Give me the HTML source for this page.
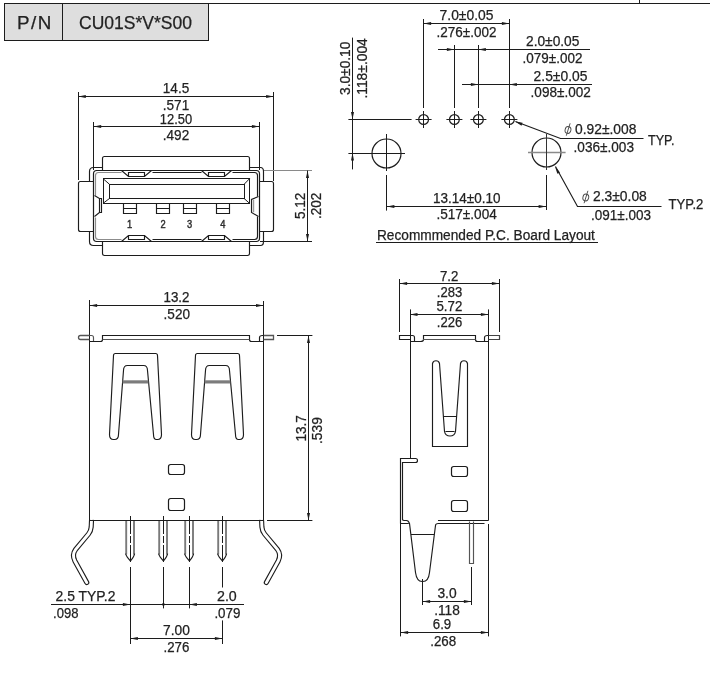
<!DOCTYPE html>
<html><head><meta charset="utf-8"><title>CU01S*V*S00</title>
<style>
html,body{margin:0;padding:0;background:#fff;}
svg{display:block;font-family:"Liberation Sans",sans-serif;filter:grayscale(1);}
</style></head>
<body>
<svg width="710" height="692" viewBox="0 0 710 692">
<rect x="0" y="0" width="710" height="692" fill="#ffffff"/>
<line x1="4" y1="3.5" x2="710" y2="3.5" stroke="#1c1c1c" stroke-width="1.0"/>
<line x1="639.5" y1="0" x2="639.5" y2="3.4" stroke="#1c1c1c" stroke-width="1.0"/>
<rect x="4.5" y="3.5" width="204.0" height="37.0" rx="0" ry="0" stroke="#1c1c1c" stroke-width="1.0" fill="#dedede"/>
<line x1="62.5" y1="3.4" x2="62.5" y2="40" stroke="#1c1c1c" stroke-width="1.0"/>
<text x="17" y="29.3" font-size="18.8" text-anchor="start" font-weight="normal" fill="#222222" stroke="#222222" stroke-width="0.25" textLength="34.4" lengthAdjust="spacing">P/N</text>
<text x="79" y="29.3" font-size="18.8" text-anchor="start" font-weight="normal" fill="#222222" stroke="#222222" stroke-width="0.25" textLength="112.9" lengthAdjust="spacingAndGlyphs">CU01S*V*S00</text>
<line x1="78.5" y1="92" x2="78.5" y2="180" stroke="#1c1c1c" stroke-width="1.0"/>
<line x1="273.5" y1="92" x2="273.5" y2="181" stroke="#1c1c1c" stroke-width="1.0"/>
<line x1="78.3" y1="96.5" x2="273.6" y2="96.5" stroke="#1c1c1c" stroke-width="1.0"/>
<polygon points="78.3,96.5 85.8,95.0 85.8,98.0" fill="#1c1c1c"/>
<polygon points="273.6,96.5 266.1,95.0 266.1,98.0" fill="#1c1c1c"/>
<text x="176" y="93" font-size="14" text-anchor="middle" font-weight="normal" fill="#222222" stroke="#222222" stroke-width="0.25" textLength="26.4" lengthAdjust="spacingAndGlyphs">14.5</text>
<text x="176" y="110" font-size="14" text-anchor="middle" font-weight="normal" fill="#222222" stroke="#222222" stroke-width="0.25" textLength="26.4" lengthAdjust="spacingAndGlyphs">.571</text>
<line x1="93.5" y1="122" x2="93.5" y2="170" stroke="#1c1c1c" stroke-width="1.0"/>
<line x1="259.5" y1="122" x2="259.5" y2="170" stroke="#1c1c1c" stroke-width="1.0"/>
<line x1="93.7" y1="126.5" x2="259.4" y2="126.5" stroke="#1c1c1c" stroke-width="1.0"/>
<polygon points="93.7,126.5 101.2,125.0 101.2,128.0" fill="#1c1c1c"/>
<polygon points="259.4,126.5 251.89999999999998,125.0 251.89999999999998,128.0" fill="#1c1c1c"/>
<text x="176" y="123.6" font-size="14" text-anchor="middle" font-weight="normal" fill="#222222" stroke="#222222" stroke-width="0.25" textLength="32.4" lengthAdjust="spacingAndGlyphs">12.50</text>
<text x="176" y="140" font-size="14" text-anchor="middle" font-weight="normal" fill="#222222" stroke="#222222" stroke-width="0.25" textLength="26.4" lengthAdjust="spacingAndGlyphs">.492</text>
<path d="M 102.5,170.5 V 158.5 Q 102.5,156.5 104.5,156.5 H 247.5 Q 249.5,156.5 249.5,158.5 V 170.5" stroke="#1c1c1c" stroke-width="1.15" fill="none" />
<path d="M 102.5,241.5 V 253.5 Q 102.5,255.5 104.5,255.5 H 247.5 Q 249.5,255.5 249.5,253.5 V 241.5" stroke="#1c1c1c" stroke-width="1.15" fill="none" />
<path d="M 102.5,167.5 H 93.5 Q 89.5,167.5 89.5,171.5 V 181.5" stroke="#1c1c1c" stroke-width="1.15" fill="none" />
<path d="M 89.5,231.5 V 241.5 Q 89.5,245.5 93.5,245.5 H 102.5" stroke="#1c1c1c" stroke-width="1.15" fill="none" />
<path d="M 249.5,167.5 H 260.5 Q 263.5,167.5 263.5,171.5 V 181.5" stroke="#1c1c1c" stroke-width="1.15" fill="none" />
<path d="M 263.5,231.5 V 241.5 Q 263.5,245.5 260.5,245.5 H 249.5" stroke="#1c1c1c" stroke-width="1.15" fill="none" />
<rect x="93.5" y="170.5" width="166.0" height="71.0" rx="3.2" ry="3.2" stroke="#1c1c1c" stroke-width="1.2" fill="none"/>
<path d="M 93.5,181.5 H 80.5 Q 78.5,181.5 78.5,183.5 V 229.5 Q 78.5,231.5 80.5,231.5 H 93.5" stroke="#1c1c1c" stroke-width="1.15" fill="none" />
<path d="M 259.5,181.5 H 271.5 Q 273.5,181.5 273.5,183.5 V 229.5 Q 273.5,231.5 271.5,231.5 H 259.5" stroke="#1c1c1c" stroke-width="1.15" fill="none" />
<path d="M 95.5,195.5 V 175.5 Q 95.5,172.5 98.5,172.5 H 121.5" stroke="#8c8c8c" stroke-width="1.15" fill="none" />
<path d="M 95.5,217.5 V 236.5 Q 95.5,239.5 98.5,239.5 H 121.5" stroke="#8c8c8c" stroke-width="1.15" fill="none" />
<path d="M 152.5,172.5 H 201.5 M 232.5,172.5 H 254.5 Q 257.5,172.5 257.5,175.5 V 196.5 M 257.5,216.5 V 236.5 Q 257.5,239.5 254.5,239.5 H 232.5 M 201.5,239.5 H 152.5 M 121.5,170.5 L 128.5,176.5 H 144.5 L 151.5,170.5 M 201.5,170.5 L 208.5,176.5 H 224.5 L 231.5,170.5 M 121.5,241.5 L 128.5,235.5 H 144.5 L 151.5,241.5 M 201.5,241.5 L 208.5,235.5 H 224.5 L 231.5,241.5" stroke="#1c1c1c" stroke-width="1.15" fill="none" />
<path d="M 128.5,176.5 V 172.5 H 144.5 V 176.5" stroke="#1c1c1c" stroke-width="1.15" fill="none" />
<path d="M 128.5,235.5 V 239.5 H 144.5 V 235.5" stroke="#1c1c1c" stroke-width="1.15" fill="none" />
<path d="M 208.5,176.5 V 172.5 H 224.5 V 176.5" stroke="#1c1c1c" stroke-width="1.15" fill="none" />
<path d="M 208.5,235.5 V 239.5 H 224.5 V 235.5" stroke="#1c1c1c" stroke-width="1.15" fill="none" />
<path d="M 94.5,195.5 L 99.5,198.5 V 212.5 L 94.5,216.5 M 99.5,198.5 H 101.5 V 212.5 H 99.5" stroke="#1c1c1c" stroke-width="1.15" fill="none" />
<path d="M 258.5,196.5 L 251.5,199.5 V 212.5 L 258.5,216.5" stroke="#1c1c1c" stroke-width="1.15" fill="none" />
<line x1="253.5" y1="199.8" x2="253.5" y2="212.2" stroke="#9a9a9a" stroke-width="1.4"/>
<rect x="103.5" y="178.5" width="146.0" height="25.0" rx="0" ry="0" stroke="#1c1c1c" stroke-width="1.0" fill="none"/>
<rect x="109.5" y="184.5" width="135.0" height="14.0" rx="0" ry="0" stroke="#1c1c1c" stroke-width="1.0" fill="none"/>
<line x1="103" y1="178.6" x2="109.6" y2="184.4" stroke="#1c1c1c" stroke-width="1.0"/>
<line x1="103" y1="203.4" x2="109.6" y2="198.4" stroke="#1c1c1c" stroke-width="1.0"/>
<line x1="249.6" y1="178.6" x2="244" y2="184.4" stroke="#1c1c1c" stroke-width="1.0"/>
<line x1="249.6" y1="203.4" x2="244" y2="198.4" stroke="#1c1c1c" stroke-width="1.0"/>
<path d="M 123.5,203.5 V 213.5 H 136.5 V 203.5 M 123.5,208.5 H 136.5" stroke="#1c1c1c" stroke-width="1.15" fill="none" />
<path d="M 156.5,203.5 V 213.5 H 169.5 V 203.5 M 156.5,208.5 H 169.5" stroke="#1c1c1c" stroke-width="1.15" fill="none" />
<path d="M 183.5,203.5 V 213.5 H 196.5 V 203.5 M 183.5,208.5 H 196.5" stroke="#1c1c1c" stroke-width="1.15" fill="none" />
<path d="M 216.5,203.5 V 213.5 H 229.5 V 203.5 M 216.5,208.5 H 229.5" stroke="#1c1c1c" stroke-width="1.15" fill="none" />
<text x="129.6" y="228" font-size="11.2" text-anchor="middle" fill="#2e2e2e" stroke="#2e2e2e" stroke-width="0.45" textLength="5.2" lengthAdjust="spacingAndGlyphs">1</text>
<text x="163" y="228" font-size="11.2" text-anchor="middle" fill="#2e2e2e" stroke="#2e2e2e" stroke-width="0.45" textLength="5.2" lengthAdjust="spacingAndGlyphs">2</text>
<text x="189.6" y="228" font-size="11.2" text-anchor="middle" fill="#2e2e2e" stroke="#2e2e2e" stroke-width="0.45" textLength="5.2" lengthAdjust="spacingAndGlyphs">3</text>
<text x="222.8" y="228" font-size="11.2" text-anchor="middle" fill="#2e2e2e" stroke="#2e2e2e" stroke-width="0.45" textLength="5.2" lengthAdjust="spacingAndGlyphs">4</text>
<line x1="264" y1="170.5" x2="312" y2="170.5" stroke="#8a8a8a" stroke-width="1.0"/>
<line x1="260" y1="241.5" x2="312" y2="241.5" stroke="#1c1c1c" stroke-width="1.0"/>
<line x1="307.5" y1="170.6" x2="307.5" y2="241.4" stroke="#1c1c1c" stroke-width="1.0"/>
<polygon points="307.5,170.6 306.0,178.1 309.0,178.1" fill="#1c1c1c"/>
<polygon points="307.5,241.4 306.0,233.9 309.0,233.9" fill="#1c1c1c"/>
<text x="304.6" y="219" font-size="14" text-anchor="start" font-weight="normal" fill="#222222" stroke="#222222" stroke-width="0.25" textLength="26.4" lengthAdjust="spacingAndGlyphs" transform="rotate(-90 304.6 219)">5.12</text>
<text x="321.4" y="219" font-size="14" text-anchor="start" font-weight="normal" fill="#222222" stroke="#222222" stroke-width="0.25" textLength="26.4" lengthAdjust="spacingAndGlyphs" transform="rotate(-90 321.4 219)">.202</text>
<circle cx="423.6" cy="119.5" r="4.9" stroke="#1c1c1c" stroke-width="1.2" fill="none"/>
<line x1="415.6" y1="119.5" x2="431.6" y2="119.5" stroke="#1c1c1c" stroke-width="1.0"/>
<line x1="423.5" y1="111.0" x2="423.5" y2="128.0" stroke="#1c1c1c" stroke-width="1.0"/>
<circle cx="454.4" cy="119.5" r="4.9" stroke="#1c1c1c" stroke-width="1.2" fill="none"/>
<line x1="446.4" y1="119.5" x2="462.4" y2="119.5" stroke="#1c1c1c" stroke-width="1.0"/>
<line x1="454.5" y1="111.0" x2="454.5" y2="128.0" stroke="#1c1c1c" stroke-width="1.0"/>
<circle cx="478.4" cy="119.5" r="4.9" stroke="#1c1c1c" stroke-width="1.2" fill="none"/>
<line x1="470.4" y1="119.5" x2="486.4" y2="119.5" stroke="#1c1c1c" stroke-width="1.0"/>
<line x1="478.5" y1="111.0" x2="478.5" y2="128.0" stroke="#1c1c1c" stroke-width="1.0"/>
<circle cx="509.4" cy="119.5" r="4.9" stroke="#1c1c1c" stroke-width="1.2" fill="none"/>
<line x1="501.4" y1="119.5" x2="517.4" y2="119.5" stroke="#1c1c1c" stroke-width="1.0"/>
<line x1="509.5" y1="111.0" x2="509.5" y2="128.0" stroke="#1c1c1c" stroke-width="1.0"/>
<line x1="423.5" y1="19" x2="423.5" y2="108" stroke="#1c1c1c" stroke-width="1.0"/>
<line x1="509.5" y1="19" x2="509.5" y2="108" stroke="#1c1c1c" stroke-width="1.0"/>
<line x1="454.5" y1="45" x2="454.5" y2="108" stroke="#1c1c1c" stroke-width="1.0"/>
<line x1="478.5" y1="45" x2="478.5" y2="108" stroke="#1c1c1c" stroke-width="1.0"/>
<line x1="423.6" y1="23.5" x2="509.4" y2="23.5" stroke="#1c1c1c" stroke-width="1.0"/>
<polygon points="423.6,23.5 431.1,22.0 431.1,25.0" fill="#1c1c1c"/>
<polygon points="509.4,23.5 501.9,22.0 501.9,25.0" fill="#1c1c1c"/>
<text x="439.6" y="20" font-size="14" text-anchor="start" font-weight="normal" fill="#222222" stroke="#222222" stroke-width="0.25" textLength="53.8" lengthAdjust="spacingAndGlyphs">7.0±0.05</text>
<text x="436.6" y="37" font-size="14" text-anchor="start" font-weight="normal" fill="#222222" stroke="#222222" stroke-width="0.25" textLength="59.8" lengthAdjust="spacingAndGlyphs">.276±.002</text>
<line x1="438" y1="49.5" x2="590" y2="49.5" stroke="#1c1c1c" stroke-width="1.0"/>
<polygon points="454.4,49.5 446.9,48.0 446.9,51.0" fill="#1c1c1c"/>
<polygon points="478.4,49.5 485.9,48.0 485.9,51.0" fill="#1c1c1c"/>
<text x="526" y="46" font-size="14" text-anchor="start" font-weight="normal" fill="#222222" stroke="#222222" stroke-width="0.25" textLength="53.4" lengthAdjust="spacingAndGlyphs">2.0±0.05</text>
<text x="522.6" y="62.6" font-size="14" text-anchor="start" font-weight="normal" fill="#222222" stroke="#222222" stroke-width="0.25" textLength="59.8" lengthAdjust="spacingAndGlyphs">.079±.002</text>
<line x1="462" y1="84.5" x2="592" y2="84.5" stroke="#1c1c1c" stroke-width="1.0"/>
<polygon points="478.4,84.5 470.9,83.0 470.9,86.0" fill="#1c1c1c"/>
<polygon points="509.4,84.5 516.9,83.0 516.9,86.0" fill="#1c1c1c"/>
<text x="533.6" y="80.6" font-size="14" text-anchor="start" font-weight="normal" fill="#222222" stroke="#222222" stroke-width="0.25" textLength="53.8" lengthAdjust="spacingAndGlyphs">2.5±0.05</text>
<text x="530.6" y="97" font-size="14" text-anchor="start" font-weight="normal" fill="#222222" stroke="#222222" stroke-width="0.25" textLength="60.2" lengthAdjust="spacingAndGlyphs">.098±.002</text>
<line x1="352.5" y1="37.6" x2="352.5" y2="153" stroke="#1c1c1c" stroke-width="1.0"/>
<line x1="352.5" y1="153" x2="352.5" y2="169.4" stroke="#1c1c1c" stroke-width="1.0"/>
<polygon points="352.5,119.5 351.0,112.0 354.0,112.0" fill="#1c1c1c"/>
<polygon points="352.5,153 351.0,160.5 354.0,160.5" fill="#1c1c1c"/>
<line x1="348.4" y1="119.5" x2="411.6" y2="119.5" stroke="#1c1c1c" stroke-width="1.0"/>
<text x="350" y="95" font-size="14" text-anchor="start" font-weight="normal" fill="#222222" stroke="#222222" stroke-width="0.25" textLength="53.4" lengthAdjust="spacingAndGlyphs" transform="rotate(-90 350 95)">3.0±0.10</text>
<text x="366.6" y="98.6" font-size="14" text-anchor="start" font-weight="normal" fill="#222222" stroke="#222222" stroke-width="0.25" textLength="60.4" lengthAdjust="spacingAndGlyphs" transform="rotate(-90 366.6 98.6)">.118±.004</text>
<circle cx="386.5" cy="153.5" r="14.5" stroke="#1c1c1c" stroke-width="1.2" fill="none"/>
<line x1="348.4" y1="153.5" x2="405" y2="153.5" stroke="#1c1c1c" stroke-width="1.0"/>
<line x1="386.5" y1="134" x2="386.5" y2="171" stroke="#1c1c1c" stroke-width="1.0"/>
<circle cx="546.5" cy="152.5" r="14.5" stroke="#1c1c1c" stroke-width="1.2" fill="none"/>
<line x1="528" y1="152.6" x2="565.6" y2="152.6" stroke="#8a8a8a" stroke-width="1.5"/>
<line x1="546.5" y1="134" x2="546.5" y2="170" stroke="#333" stroke-width="1.0"/>
<line x1="386.5" y1="175" x2="386.5" y2="210.6" stroke="#1c1c1c" stroke-width="1.0"/>
<line x1="546.5" y1="175" x2="546.5" y2="210" stroke="#1c1c1c" stroke-width="1.0"/>
<line x1="386.4" y1="206.5" x2="546.6" y2="206.5" stroke="#1c1c1c" stroke-width="1.0"/>
<polygon points="386.9,206.5 394.4,205.0 394.4,208.0" fill="#1c1c1c"/>
<polygon points="546.1,206.5 538.6,205.0 538.6,208.0" fill="#1c1c1c"/>
<text x="433" y="203" font-size="14" text-anchor="start" font-weight="normal" fill="#222222" stroke="#222222" stroke-width="0.25" textLength="67.4" lengthAdjust="spacingAndGlyphs">13.14±0.10</text>
<text x="436.4" y="219.4" font-size="14" text-anchor="start" font-weight="normal" fill="#222222" stroke="#222222" stroke-width="0.25" textLength="60.4" lengthAdjust="spacingAndGlyphs">.517±.004</text>
<text x="377" y="239.6" font-size="14" text-anchor="start" font-weight="normal" fill="#222222" stroke="#222222" stroke-width="0.25" textLength="217.9" lengthAdjust="spacingAndGlyphs">Recommmended P.C. Board Layout</text>
<line x1="376" y1="242.5" x2="598" y2="242.5" stroke="#1c1c1c" stroke-width="1.0"/>
<path d="M 515.5,121.5 L 560.5,138.5 H 643.5" stroke="#1c1c1c" stroke-width="1.15" fill="none" />
<polygon points="515.00,121.60 522.55,122.82 521.50,125.63" fill="#1c1c1c"/>
<path d="M 555.5,166.5 L 577.5,206.5 H 661.5" stroke="#1c1c1c" stroke-width="1.15" fill="none" />
<polygon points="555.00,166.60 559.99,172.40 557.37,173.87" fill="#1c1c1c"/>
<g stroke="#4a4a4a" stroke-width="0.95" fill="none"><ellipse cx="568" cy="130.0" rx="2.9" ry="3.4" transform="rotate(14 568 130.0)"/><line x1="570.1" y1="123.3" x2="566.3" y2="135.7"/></g>
<text x="575" y="133.7" font-size="14" text-anchor="start" font-weight="normal" fill="#222222" stroke="#222222" stroke-width="0.25" textLength="61.4" lengthAdjust="spacingAndGlyphs">0.92±.008</text>
<text x="573.6" y="152" font-size="14" text-anchor="start" font-weight="normal" fill="#222222" stroke="#222222" stroke-width="0.25" textLength="60.4" lengthAdjust="spacingAndGlyphs">.036±.003</text>
<text x="648" y="145" font-size="14" text-anchor="start" font-weight="normal" fill="#222222" stroke="#222222" stroke-width="0.25" textLength="26.4" lengthAdjust="spacingAndGlyphs">TYP.</text>
<g stroke="#4a4a4a" stroke-width="0.95" fill="none"><ellipse cx="585.8" cy="197.5" rx="2.9" ry="3.4" transform="rotate(14 585.8 197.5)"/><line x1="587.9" y1="190.8" x2="584.0999999999999" y2="203.2"/></g>
<text x="593" y="201" font-size="14" text-anchor="start" font-weight="normal" fill="#222222" stroke="#222222" stroke-width="0.25" textLength="53.8" lengthAdjust="spacingAndGlyphs">2.3±0.08</text>
<text x="591" y="219.6" font-size="14" text-anchor="start" font-weight="normal" fill="#222222" stroke="#222222" stroke-width="0.25" textLength="60.0" lengthAdjust="spacingAndGlyphs">.091±.003</text>
<text x="668.6" y="208.6" font-size="14" text-anchor="start" font-weight="normal" fill="#222222" stroke="#222222" stroke-width="0.25" textLength="34.8" lengthAdjust="spacingAndGlyphs">TYP.2</text>
<line x1="89.5" y1="300" x2="89.5" y2="520.4" stroke="#1c1c1c" stroke-width="1.0"/>
<line x1="263.5" y1="301" x2="263.5" y2="520.4" stroke="#1c1c1c" stroke-width="1.0"/>
<line x1="89.6" y1="305.5" x2="263.5" y2="305.5" stroke="#1c1c1c" stroke-width="1.0"/>
<polygon points="89.6,305.5 97.1,304.0 97.1,307.0" fill="#1c1c1c"/>
<polygon points="263.5,305.5 256.0,304.0 256.0,307.0" fill="#1c1c1c"/>
<text x="176.5" y="302" font-size="14" text-anchor="middle" font-weight="normal" fill="#222222" stroke="#222222" stroke-width="0.25" textLength="26.0" lengthAdjust="spacingAndGlyphs">13.2</text>
<text x="176.8" y="318.6" font-size="14" text-anchor="middle" font-weight="normal" fill="#222222" stroke="#222222" stroke-width="0.25" textLength="26.4" lengthAdjust="spacingAndGlyphs">.520</text>
<line x1="89.6" y1="520.5" x2="263.5" y2="520.5" stroke="#1c1c1c" stroke-width="1.0"/>
<path d="M 89.5,335.5 H 80.5 A 2.0,2.0 0 0,0 80.5,339.5 H 89.5" stroke="#555" stroke-width="1.3" fill="none" />
<path d="M 89.5,335.5 H 91.5 Q 93.5,335.5 93.5,337.5 V 341.5" stroke="#555" stroke-width="1.15" fill="none" />
<path d="M 89.5,341.5 H 100.5 Q 102.5,341.5 102.5,339.5 V 335.5 H 249.5 V 339.5 Q 249.5,341.5 251.5,341.5 H 263.5" stroke="#1c1c1c" stroke-width="1.15" fill="none" />
<line x1="102.5" y1="339.5" x2="249.6" y2="339.5" stroke="#555" stroke-width="1.0"/>
<path d="M 263.5,335.5 H 273.5 V 339.5 H 263.5" stroke="#555" stroke-width="1.3" fill="none" />
<path d="M 263.5,335.5 H 262.5 Q 259.5,335.5 259.5,337.5 V 341.5" stroke="#1c1c1c" stroke-width="1.15" fill="none" />
<path d="M 115.5,353.5 H 155.5 Q 157.5,353.5 157.5,355.5 L 161.5,434.5 Q 161.5,439.5 157.5,439.5 H 156.5 Q 153.5,439.5 153.5,434.5 L 147.5,370.5 Q 147.5,365.5 143.5,365.5 H 127.5 Q 123.5,365.5 123.5,370.5 L 118.5,434.5 Q 118.5,439.5 114.5,439.5 H 113.5 Q 109.5,439.5 109.5,434.5 L 113.5,355.5 Q 113.5,353.5 115.5,353.5 Z" stroke="#1c1c1c" stroke-width="1.15" fill="none" />
<line x1="122.6" y1="381.9" x2="148.4" y2="381.9" stroke="#7c7c7c" stroke-width="3.2"/>
<path d="M 197.5,353.5 H 237.5 Q 239.5,353.5 239.5,355.5 L 243.5,434.5 Q 243.5,439.5 239.5,439.5 H 238.5 Q 235.5,439.5 235.5,434.5 L 229.5,370.5 Q 229.5,365.5 225.5,365.5 H 209.5 Q 205.5,365.5 205.5,370.5 L 200.5,434.5 Q 200.5,439.5 196.5,439.5 H 195.5 Q 191.5,439.5 191.5,434.5 L 195.5,355.5 Q 195.5,353.5 197.5,353.5 Z" stroke="#1c1c1c" stroke-width="1.15" fill="none" />
<line x1="204.6" y1="381.9" x2="230.4" y2="381.9" stroke="#7c7c7c" stroke-width="3.2"/>
<rect x="168.5" y="464.5" width="16.0" height="10.0" rx="2.2" ry="2.2" stroke="#1c1c1c" stroke-width="1.2" fill="none"/>
<rect x="168.5" y="498.5" width="16.0" height="12.0" rx="2.2" ry="2.2" stroke="#1c1c1c" stroke-width="1.2" fill="none"/>
<line x1="126.2" y1="520.4" x2="126.2" y2="554.4" stroke="#7a7a7a" stroke-width="1.9"/>
<line x1="134.0" y1="520.4" x2="134.0" y2="554.4" stroke="#7a7a7a" stroke-width="1.9"/>
<path d="M125.6,553.6 Q126.3,556.5 130.5,561 Q134.1,556.5 134.6,553.6" stroke="#1c1c1c" stroke-width="1.15" fill="none" />
<line x1="130.5" y1="516" x2="130.5" y2="562" stroke="#1c1c1c" stroke-width="1" stroke-dasharray="18 2 7 2"/>
<line x1="159.2" y1="520.4" x2="159.2" y2="554.4" stroke="#7a7a7a" stroke-width="1.9"/>
<line x1="167.0" y1="520.4" x2="167.0" y2="554.4" stroke="#7a7a7a" stroke-width="1.9"/>
<path d="M158.6,553.6 Q159.3,556.5 163.5,561 Q167.1,556.5 167.6,553.6" stroke="#1c1c1c" stroke-width="1.15" fill="none" />
<line x1="163.5" y1="516" x2="163.5" y2="562" stroke="#1c1c1c" stroke-width="1" stroke-dasharray="18 2 7 2"/>
<line x1="185.2" y1="520.4" x2="185.2" y2="554.4" stroke="#7a7a7a" stroke-width="1.9"/>
<line x1="193.0" y1="520.4" x2="193.0" y2="554.4" stroke="#7a7a7a" stroke-width="1.9"/>
<path d="M184.6,553.6 Q185.3,556.5 189.5,561 Q193.1,556.5 193.6,553.6" stroke="#1c1c1c" stroke-width="1.15" fill="none" />
<line x1="189.5" y1="516" x2="189.5" y2="562" stroke="#1c1c1c" stroke-width="1" stroke-dasharray="18 2 7 2"/>
<line x1="218.2" y1="520.4" x2="218.2" y2="554.4" stroke="#7a7a7a" stroke-width="1.9"/>
<line x1="226.0" y1="520.4" x2="226.0" y2="554.4" stroke="#7a7a7a" stroke-width="1.9"/>
<path d="M217.6,553.6 Q218.3,556.5 222.5,561 Q226.1,556.5 226.6,553.6" stroke="#1c1c1c" stroke-width="1.15" fill="none" />
<line x1="222.5" y1="516" x2="222.5" y2="562" stroke="#1c1c1c" stroke-width="1" stroke-dasharray="18 2 7 2"/>
<path d="M261.6,520.4 L261.9,527 Q262.2,531 264.6,534 L277.4,549.3 Q281.4,554.8 278.2,561 L266.3,582.6" stroke="#1c1c1c" stroke-width="5.1" fill="none" stroke-linecap="round"/>
<path d="M261.6,520.4 L261.9,527 Q262.2,531 264.6,534 L277.4,549.3 Q281.4,554.8 278.2,561 L266.3,582.6" stroke="#fff" stroke-width="2.9" fill="none" stroke-linecap="round"/>
<rect x="258.4" y="516.4" width="6.2000000000000455" height="3.45" fill="#fff"/>
<path d="M91.5,520.4 L91.2,527 Q90.9,531 88.5,534 L75.7,549.3 Q71.7,554.8 74.9,561 L86.8,582.6" stroke="#1c1c1c" stroke-width="5.1" fill="none" stroke-linecap="round"/>
<path d="M91.5,520.4 L91.2,527 Q90.9,531 88.5,534 L75.7,549.3 Q71.7,554.8 74.9,561 L86.8,582.6" stroke="#fff" stroke-width="2.9" fill="none" stroke-linecap="round"/>
<rect x="88.5" y="516.4" width="6.200000000000003" height="3.45" fill="#fff"/>
<line x1="89.5" y1="514.4" x2="89.5" y2="520.4" stroke="#1c1c1c" stroke-width="1.0"/>
<line x1="263.5" y1="514.4" x2="263.5" y2="520.4" stroke="#1c1c1c" stroke-width="1.0"/>
<line x1="89.6" y1="520.5" x2="263.5" y2="520.5" stroke="#1c1c1c" stroke-width="1.0"/>
<line x1="267" y1="520.5" x2="312.4" y2="520.5" stroke="#1c1c1c" stroke-width="1.0"/>
<line x1="277" y1="335.5" x2="312.4" y2="335.5" stroke="#1c1c1c" stroke-width="1.0"/>
<line x1="308.5" y1="335.4" x2="308.5" y2="520.4" stroke="#1c1c1c" stroke-width="1.0"/>
<polygon points="308.5,335.4 307.0,342.9 310.0,342.9" fill="#1c1c1c"/>
<polygon points="308.5,520.4 307.0,512.9 310.0,512.9" fill="#1c1c1c"/>
<text x="305.6" y="441.6" font-size="14" text-anchor="start" font-weight="normal" fill="#222222" stroke="#222222" stroke-width="0.25" textLength="26.4" lengthAdjust="spacingAndGlyphs" transform="rotate(-90 305.6 441.6)">13.7</text>
<text x="322" y="444" font-size="14" text-anchor="start" font-weight="normal" fill="#222222" stroke="#222222" stroke-width="0.25" textLength="26.8" lengthAdjust="spacingAndGlyphs" transform="rotate(-90 322 444)">.539</text>
<line x1="130.5" y1="567" x2="130.5" y2="644" stroke="#1c1c1c" stroke-width="1.0"/>
<line x1="163.5" y1="567" x2="163.5" y2="608.4" stroke="#1c1c1c" stroke-width="1.0"/>
<line x1="189.5" y1="567" x2="189.5" y2="608.4" stroke="#1c1c1c" stroke-width="1.0"/>
<line x1="222.5" y1="567" x2="222.5" y2="587.5" stroke="#1c1c1c" stroke-width="1.0"/>
<line x1="222.5" y1="620.4" x2="222.5" y2="644" stroke="#1c1c1c" stroke-width="1.0"/>
<line x1="51" y1="604.5" x2="244" y2="604.5" stroke="#1c1c1c" stroke-width="1.0"/>
<polygon points="130.4,604.5 122.9,603.0 122.9,606.0" fill="#1c1c1c"/>
<polygon points="189.4,604.5 196.9,603.0 196.9,606.0" fill="#1c1c1c"/>
<circle cx="163.4" cy="604.4" r="1.3" fill="#1c1c1c"/>
<text x="55.6" y="601" font-size="14" text-anchor="start" font-weight="normal" fill="#222222" stroke="#222222" stroke-width="0.25" textLength="59.8" lengthAdjust="spacingAndGlyphs">2.5 TYP.2</text>
<text x="53" y="617.6" font-size="14" text-anchor="start" font-weight="normal" fill="#222222" stroke="#222222" stroke-width="0.25" textLength="25.4" lengthAdjust="spacingAndGlyphs">.098</text>
<text x="217" y="601" font-size="14" text-anchor="start" font-weight="normal" fill="#222222" stroke="#222222" stroke-width="0.25" textLength="19.8" lengthAdjust="spacingAndGlyphs">2.0</text>
<text x="214.4" y="617.6" font-size="14" text-anchor="start" font-weight="normal" fill="#222222" stroke="#222222" stroke-width="0.25" textLength="26.0" lengthAdjust="spacingAndGlyphs">.079</text>
<line x1="130.4" y1="638.5" x2="222.4" y2="638.5" stroke="#1c1c1c" stroke-width="1.0"/>
<polygon points="130.4,638.5 137.9,637.0 137.9,640.0" fill="#1c1c1c"/>
<polygon points="222.4,638.5 214.9,637.0 214.9,640.0" fill="#1c1c1c"/>
<text x="176.4" y="635" font-size="14" text-anchor="middle" font-weight="normal" fill="#222222" stroke="#222222" stroke-width="0.25" textLength="26.8" lengthAdjust="spacingAndGlyphs">7.00</text>
<text x="176.4" y="652" font-size="14" text-anchor="middle" font-weight="normal" fill="#222222" stroke="#222222" stroke-width="0.25" textLength="25.8" lengthAdjust="spacingAndGlyphs">.276</text>
<line x1="399.5" y1="279" x2="399.5" y2="332" stroke="#1c1c1c" stroke-width="1.0"/>
<line x1="499.5" y1="279" x2="499.5" y2="332" stroke="#1c1c1c" stroke-width="1.0"/>
<line x1="399.6" y1="283.5" x2="499.4" y2="283.5" stroke="#1c1c1c" stroke-width="1.0"/>
<polygon points="399.6,283.5 407.1,282.0 407.1,285.0" fill="#1c1c1c"/>
<polygon points="499.4,283.5 491.9,282.0 491.9,285.0" fill="#1c1c1c"/>
<text x="449.2" y="280.6" font-size="14" text-anchor="middle" font-weight="normal" fill="#222222" stroke="#222222" stroke-width="0.25" textLength="18.4" lengthAdjust="spacingAndGlyphs">7.2</text>
<text x="449.5" y="296.8" font-size="14" text-anchor="middle" font-weight="normal" fill="#222222" stroke="#222222" stroke-width="0.25" textLength="25.4" lengthAdjust="spacingAndGlyphs">.283</text>
<text x="449.4" y="310.8" font-size="14" text-anchor="middle" font-weight="normal" fill="#222222" stroke="#222222" stroke-width="0.25" textLength="25.8" lengthAdjust="spacingAndGlyphs">5.72</text>
<line x1="410.5" y1="309.4" x2="410.5" y2="458" stroke="#1c1c1c" stroke-width="1.0"/>
<line x1="488.5" y1="309.4" x2="488.5" y2="520.6" stroke="#1c1c1c" stroke-width="1.0"/>
<line x1="410" y1="314.5" x2="488.4" y2="314.5" stroke="#1c1c1c" stroke-width="1.0"/>
<polygon points="410,314.5 417.5,313.0 417.5,316.0" fill="#1c1c1c"/>
<polygon points="488.4,314.5 480.9,313.0 480.9,316.0" fill="#1c1c1c"/>
<text x="449.5" y="326.8" font-size="14" text-anchor="middle" font-weight="normal" fill="#222222" stroke="#222222" stroke-width="0.25" textLength="25.4" lengthAdjust="spacingAndGlyphs">.226</text>
<path d="M 410.5,335.5 H 399.5 V 339.5 H 410.5" stroke="#1c1c1c" stroke-width="1.15" fill="none" />
<path d="M 488.5,335.5 H 499.5 V 339.5 H 488.5" stroke="#444" stroke-width="1.2" fill="none" />
<path d="M 410.5,335.5 H 412.5 Q 414.5,335.5 414.5,337.5 V 341.5" stroke="#1c1c1c" stroke-width="1.15" fill="none" />
<path d="M 410.5,341.5 H 420.5 Q 423.5,341.5 423.5,339.5 V 335.5 H 475.5 V 339.5 Q 475.5,341.5 477.5,341.5 H 488.5" stroke="#1c1c1c" stroke-width="1.15" fill="none" />
<line x1="423" y1="339.5" x2="475.6" y2="339.5" stroke="#555" stroke-width="1.0"/>
<path d="M 488.5,335.5 H 487.5 Q 484.5,335.5 484.5,337.5 V 341.5" stroke="#1c1c1c" stroke-width="1.15" fill="none" />
<path d="M 432.5,446.5 V 363.5 A 3.6,3.6 0 0,1 439.5,363.5 L 444.5,431.5 A 5.6,5.6 0 0,0 455.5,431.5 L 460.5,363.5 A 3.6,3.6 0 0,1 467.5,363.5 V 446.5 Z" stroke="#1c1c1c" stroke-width="1.15" fill="none" />
<line x1="443.4" y1="416.5" x2="456.6" y2="416.5" stroke="#1c1c1c" stroke-width="1.0"/>
<line x1="445.4" y1="431.5" x2="454.6" y2="431.5" stroke="#1c1c1c" stroke-width="1.0"/>
<path d="M 400.5,523.5 V 458.5 H 415.5 A 2.0,2.0 0 0,1 415.5,462.5 H 402.5 V 519.5 Q 402.5,520.5 404.5,520.5 H 406.5 Q 408.5,520.5 409.5,523.5 L 415.5,572.5 C 416.4,579.0 419.0,581.7 422.5,581.5 C 426.2,581.7 428.8,579.0 429.5,572.5 L 435.5,525.5 Q 435.5,523.5 438.5,523.5 H 484.5" stroke="#1c1c1c" stroke-width="1.15" fill="none" />
<line x1="400.6" y1="523.5" x2="408.8" y2="523.5" stroke="#1c1c1c" stroke-width="1.0"/>
<line x1="400.5" y1="523" x2="400.5" y2="636.4" stroke="#1c1c1c" stroke-width="1.0"/>
<line x1="438" y1="520.5" x2="488.4" y2="520.5" stroke="#1c1c1c" stroke-width="1.0"/>
<line x1="411" y1="534.5" x2="434" y2="534.5" stroke="#1c1c1c" stroke-width="1.0"/>
<rect x="451.5" y="466.5" width="16.0" height="10.0" rx="2.2" ry="2.2" stroke="#1c1c1c" stroke-width="1.2" fill="none"/>
<rect x="451.5" y="500.5" width="16.0" height="11.0" rx="2.2" ry="2.2" stroke="#1c1c1c" stroke-width="1.2" fill="none"/>
<path d="M 469.5,521.5 V 563.5 H 473.5 V 521.5" stroke="#555" stroke-width="1.15" fill="none" />
<line x1="471.5" y1="567" x2="471.5" y2="605" stroke="#1c1c1c" stroke-width="1.0"/>
<line x1="422.5" y1="579" x2="422.5" y2="605" stroke="#1c1c1c" stroke-width="1.0"/>
<line x1="422.6" y1="601.5" x2="471.4" y2="601.5" stroke="#1c1c1c" stroke-width="1.0"/>
<polygon points="422.6,601.5 430.1,600.0 430.1,603.0" fill="#1c1c1c"/>
<polygon points="471.4,601.5 463.9,600.0 463.9,603.0" fill="#1c1c1c"/>
<text x="447" y="598" font-size="14" text-anchor="middle" font-weight="normal" fill="#222222" stroke="#222222" stroke-width="0.25" textLength="19.2" lengthAdjust="spacingAndGlyphs">3.0</text>
<text x="447" y="614.8" font-size="14" text-anchor="middle" font-weight="normal" fill="#222222" stroke="#222222" stroke-width="0.25" textLength="25.6" lengthAdjust="spacingAndGlyphs">.118</text>
<text x="442" y="629.2" font-size="14" text-anchor="middle" font-weight="normal" fill="#222222" stroke="#222222" stroke-width="0.25" textLength="18.4" lengthAdjust="spacingAndGlyphs">6.9</text>
<line x1="488.5" y1="524" x2="488.5" y2="636.4" stroke="#1c1c1c" stroke-width="1.0"/>
<line x1="400.6" y1="632.5" x2="488.4" y2="632.5" stroke="#1c1c1c" stroke-width="1.0"/>
<polygon points="400.6,632.5 408.1,631.0 408.1,634.0" fill="#1c1c1c"/>
<polygon points="488.4,632.5 480.9,631.0 480.9,634.0" fill="#1c1c1c"/>
<text x="443.2" y="646.2" font-size="14" text-anchor="middle" font-weight="normal" fill="#222222" stroke="#222222" stroke-width="0.25" textLength="26.0" lengthAdjust="spacingAndGlyphs">.268</text>
</svg>
</body></html>
